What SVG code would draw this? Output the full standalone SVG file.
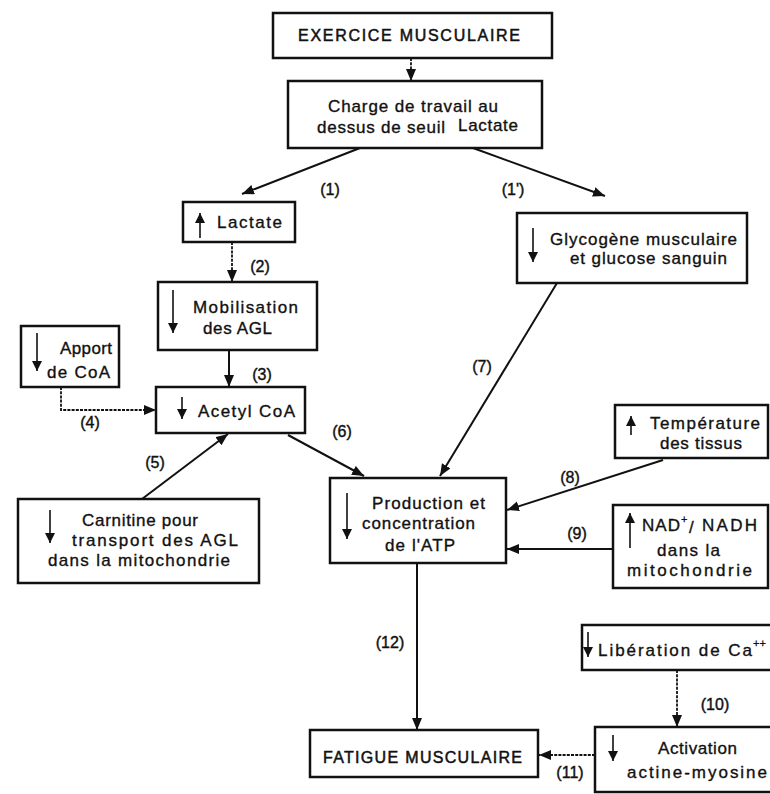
<svg xmlns="http://www.w3.org/2000/svg" width="770" height="794" viewBox="0 0 770 794">
  <defs>
    <style>
      .box { fill: #fff; stroke: #111; stroke-width: 2.5; }
      .t { font-family: "Liberation Sans", Arial, sans-serif; font-size: 17px; fill: #111; stroke: #111; stroke-width: 0.35; }
      .cap { font-family: "Liberation Sans", Arial, sans-serif; font-size: 16px; fill: #111; stroke: #111; stroke-width: 0.5; }
      .lbl { font-family: "Liberation Sans", Arial, sans-serif; font-size: 16px; fill: #111; stroke: #111; stroke-width: 0.4; }
      .sup { font-family: "Liberation Sans", Arial, sans-serif; font-size: 11px; fill: #111; stroke: #111; stroke-width: 0.3; }
      .c { fill: none; stroke: #111; stroke-width: 2; }
      .d { fill: none; stroke: #111; stroke-width: 1.8; stroke-dasharray: 3 1.2; }
      .ic { stroke: #111; stroke-width: 1.6; }
    </style>
    <marker id="ah" markerUnits="userSpaceOnUse" markerWidth="14" markerHeight="12" refX="12" refY="5" orient="auto">
      <path d="M0,0 L12,5 L0,10 Z" fill="#111"/>
    </marker>
    <marker id="ih" markerUnits="userSpaceOnUse" markerWidth="11" markerHeight="11" refX="10" refY="5" orient="auto">
      <path d="M0,0 L10,5 L0,10 Z" fill="#111"/>
    </marker>
  </defs>
  <rect width="770" height="794" fill="#fff"/>

  <!-- connectors -->
  <g id="connectors">
    <line class="d" x1="411" y1="58" x2="411" y2="81" marker-end="url(#ah)"/>
    <line class="c" x1="360" y1="148" x2="242" y2="194" marker-end="url(#ah)"/>
    <line class="c" x1="473" y1="148" x2="605" y2="196" marker-end="url(#ah)"/>
    <line class="d" x1="232" y1="242" x2="232" y2="282" marker-end="url(#ah)"/>
    <line class="c" x1="229" y1="350" x2="229" y2="387" marker-end="url(#ah)"/>
    <polyline class="d" points="61,387 61,410 156,410" marker-end="url(#ah)"/>
    <line class="c" x1="142" y1="499" x2="228" y2="434" marker-end="url(#ah)"/>
    <line class="c" x1="288" y1="435" x2="364" y2="476" marker-end="url(#ah)"/>
    <line class="c" x1="557" y1="283" x2="440" y2="476" marker-end="url(#ah)"/>
    <line class="c" x1="663" y1="460" x2="507" y2="510" marker-end="url(#ah)"/>
    <line class="c" x1="613" y1="549" x2="507" y2="549" marker-end="url(#ah)"/>
    <line class="c" x1="417" y1="563" x2="417" y2="730" marker-end="url(#ah)"/>
    <line class="d" x1="677" y1="670" x2="677" y2="727" marker-end="url(#ah)"/>
    <line class="d" x1="595" y1="755" x2="539" y2="755" marker-end="url(#ah)"/>

    <text class="lbl" x="330" y="195" text-anchor="middle">(1)</text>
    <text class="lbl" x="513" y="195" text-anchor="middle">(1')</text>
    <text class="lbl" x="260" y="272" text-anchor="middle">(2)</text>
    <text class="lbl" x="262" y="380" text-anchor="middle">(3)</text>
    <text class="lbl" x="90" y="428" text-anchor="middle">(4)</text>
    <text class="lbl" x="155" y="468" text-anchor="middle">(5)</text>
    <text class="lbl" x="342" y="437" text-anchor="middle">(6)</text>
    <text class="lbl" x="482" y="372" text-anchor="middle">(7)</text>
    <text class="lbl" x="570" y="483" text-anchor="middle">(8)</text>
    <text class="lbl" x="577" y="539" text-anchor="middle">(9)</text>
    <text class="lbl" x="715" y="710" text-anchor="middle">(10)</text>
    <text class="lbl" x="570" y="778" text-anchor="middle">(11)</text>
    <text class="lbl" x="390" y="648" text-anchor="middle">(12)</text>
  </g>

  <g id="exercice">
    <rect class="box" x="273" y="13" width="279" height="45"/>
    <text class="cap" x="298" y="41" textLength="222">EXERCICE MUSCULAIRE</text>
  </g>

  <g id="charge">
    <rect class="box" x="288" y="81" width="254" height="67"/>
    <text class="t" x="328" y="112" textLength="170">Charge de travail au</text>
    <text class="t" x="317" y="133" textLength="128">dessus de seuil</text>
    <text class="t" x="458" y="131" textLength="60">Lactate</text>
  </g>

  <g id="lactate">
    <rect class="box" x="183" y="202" width="112" height="40"/>
    <line class="ic" x1="200" y1="238" x2="200" y2="213" marker-end="url(#ih)"/>
    <text class="t" x="217" y="228" textLength="65">Lactate</text>
  </g>

  <g id="glycogene">
    <rect class="box" x="517" y="213" width="230" height="70"/>
    <line class="ic" x1="533" y1="228" x2="533" y2="262" marker-end="url(#ih)"/>
    <text class="t" x="550" y="245" textLength="187">Glycogène musculaire</text>
    <text class="t" x="570" y="264" textLength="157">et glucose sanguin</text>
  </g>

  <g id="mobilisation">
    <rect class="box" x="158" y="282" width="159" height="68"/>
    <line class="ic" x1="173" y1="290" x2="173" y2="333" marker-end="url(#ih)"/>
    <text class="t" x="193" y="313" textLength="105">Mobilisation</text>
    <text class="t" x="203" y="334" textLength="69">des AGL</text>
  </g>

  <g id="apport">
    <rect class="box" x="21" y="326" width="98" height="61"/>
    <line class="ic" x1="37" y1="333" x2="37" y2="371" marker-end="url(#ih)"/>
    <text class="t" x="60" y="354" textLength="52">Apport</text>
    <text class="t" x="47" y="378" textLength="63">de CoA</text>
  </g>

  <g id="acetyl">
    <rect class="box" x="156" y="387" width="149" height="46"/>
    <line class="ic" x1="182" y1="397" x2="182" y2="419" marker-end="url(#ih)"/>
    <text class="t" x="198" y="417" textLength="97">Acetyl  CoA</text>
  </g>

  <g id="temperature">
    <rect class="box" x="615" y="405" width="153" height="53"/>
    <line class="ic" x1="631" y1="435" x2="631" y2="416" marker-end="url(#ih)"/>
    <text class="t" x="650" y="429" textLength="110">Température</text>
    <text class="t" x="660" y="449" textLength="82">des tissus</text>
  </g>

  <g id="production">
    <rect class="box" x="330" y="478" width="176" height="85"/>
    <line class="ic" x1="347" y1="493" x2="347" y2="539" marker-end="url(#ih)"/>
    <text class="t" x="372" y="509" textLength="113">Production et</text>
    <text class="t" x="362" y="529" textLength="113">concentration</text>
    <text class="t" x="385" y="551" textLength="70">de l'ATP</text>
  </g>

  <g id="nad">
    <rect class="box" x="613" y="505" width="155" height="83"/>
    <line class="ic" x1="630" y1="548" x2="630" y2="513" marker-end="url(#ih)"/>
    <text class="t" x="642" y="531" textLength="38">NAD</text>
    <text class="sup" x="681" y="523">+</text>
    <text class="t" x="689" y="533" font-size="21">/</text>
    <text class="t" x="702" y="531" textLength="55">NADH</text>
    <text class="t" x="657" y="556" textLength="63">dans la</text>
    <text class="t" x="627" y="576" textLength="125">mitochondrie</text>
  </g>

  <g id="carnitine">
    <rect class="box" x="18" y="499" width="241" height="84"/>
    <line class="ic" x1="50" y1="510" x2="50" y2="543" marker-end="url(#ih)"/>
    <text class="t" x="82" y="526" textLength="116">Carnitine pour</text>
    <text class="t" x="72" y="546" textLength="166">transport des AGL</text>
    <text class="t" x="48" y="566" textLength="182">dans la mitochondrie</text>
  </g>

  <g id="calcium">
    <rect class="box" x="582" y="625" width="200" height="45"/>
    <line class="ic" x1="588" y1="632" x2="588" y2="657" marker-end="url(#ih)"/>
    <text class="t" x="598" y="656" textLength="154">Libération de Ca</text>
    <text class="sup" x="753" y="647">++</text>
  </g>

  <g id="activation">
    <rect class="box" x="595" y="727" width="190" height="65"/>
    <line class="ic" x1="613" y1="735" x2="613" y2="761" marker-end="url(#ih)"/>
    <text class="t" x="658" y="754" textLength="79">Activation</text>
    <text class="t" x="627" y="778" textLength="140">actine-myosine</text>
  </g>

  <g id="fatigue">
    <rect class="box" x="310" y="730" width="228" height="47"/>
    <text class="cap" x="323" y="763" textLength="199">FATIGUE MUSCULAIRE</text>
  </g>
</svg>
